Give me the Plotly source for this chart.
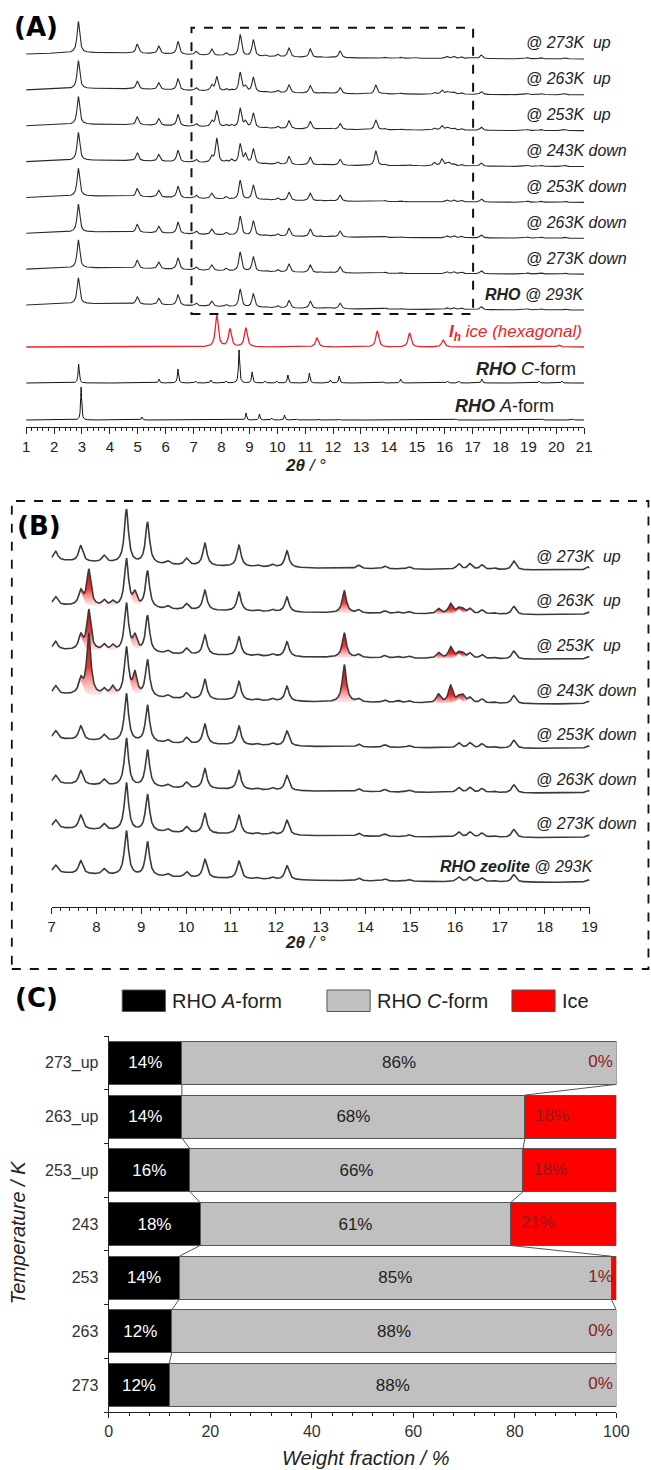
import numpy as np
import plotly.graph_objects as go

# The snapshot squeezes the page a little horizontally (≈0.97, shifted ≈4.9px),
# so the figure is laid out on a wider canvas and positions are mapped back.
SX, OX = 0.971, 5.05
W, H = 668, 1470
FONT = "Liberation Sans, Arial, sans-serif"
INK = "#222222"

# ---------------- data ----------------
# RHO zeolite reflections read off the in-situ scans: 2theta (deg) / intensity (a.u.)
rho_pos = [2.87, 4.98, 5.75, 6.44, 7.09, 7.65, 8.17, 8.67, 9.14, 9.59, 10.01, 10.42,
           11.18, 11.6, 11.92, 12.25, 13.85, 14.43, 14.97, 16.08, 16.33, 16.6, 16.87,
           17.31, 18.96, 19.45, 20.3]
rho_int = [70, 20, 17, 29, 8, 14, 6, 48, 37, 3, 6, 20,
           19, 1.5, 2.5, 15, 3, 2.5, 2, 5, 5, 4, 1.5,
           8, 3, 3, 3]

# hexagonal ice reflections showing up in the cold scans
ice_pos = [7.83, 8.36, 8.86, 13.53, 14.72, 15.63, 15.9, 16.17]
ice_int = [36, 5, 13, 22, 1.5, 5, 10, 4]

scan_labels = ["@ 273K\u00a0 up", "@ 263K\u00a0 up", "@ 253K\u00a0 up", "@ 243K down",
               "@ 253K down", "@ 263K down", "@ 273K down", "RHO @ 293K"]
scan_rho_scale = [1.12, 1.0, 1.0, 1.0, 1.0, 1.0, 1.0, 0.93]
scan_ice_scale = [0.0, 1.0, 1.12, 1.7, 0.0, 0.0, 0.0, 0.0]

# reference patterns (panel A)
iceh_pos = [7.83, 8.3, 8.87, 11.42, 13.58, 14.74, 15.94, 20.09]
iceh_int = [32, 18, 19, 9, 16, 14, 7, 2]
cform_pos = [2.88, 5.76, 6.44, 7.07, 7.62, 8.16, 8.63, 9.1, 9.56, 9.98, 10.38, 11.15,
             11.9, 12.22, 13.8, 14.42, 16.1, 16.5, 17.33, 19.38, 20.2]
cform_int = [19, 4, 14, 2, 3, 2, 33, 11, 2, 2, 8, 10,
             3, 7, 1, 4, 2, 2, 4, 2, 2]
aform_pos = [2.97, 5.15, 8.88, 9.36, 9.8, 10.26, 10.7, 11.47, 12.2, 16.4, 19.5, 20.6]
aform_int = [33, 3, 7, 6, 2, 5, 1, 1, 1, 1, 1, 1]

# panel C: weight fractions (%)
temps = ["273_up", "263_up", "253_up", "243", "253", "263", "273"]
frac_a = [14.4, 14.4, 16.0, 18.0, 13.9, 12.4, 11.9]
frac_c = [85.6, 67.6, 65.6, 61.2, 85.1, 87.6, 88.1]
frac_ice = [0.0, 18.0, 18.4, 20.8, 1.0, 0.0, 0.0]


# ---------------- helpers ----------------
def xp(px):
    return (px / SX - OX) / W


def yp(py):
    return 1 - py / H


def profile(x, pos, inten, hw):
    d = x[:, None] - np.array(pos)[None, :]
    return (np.array(inten) * hw ** 2 / (d ** 2 + hw ** 2)).sum(axis=1)


BG_C, BG_W, BG_H = 3.5, 5.0, 17.0  # broad background hump of the measured scans


def background(x):
    return BG_H * BG_W ** 2 / ((x - BG_C) ** 2 + BG_W ** 2)


HW = 0.055
A_SCALE = 0.4
xa = np.linspace(1, 21, 4001)
xb = np.linspace(7, 19, 2401)

fig = go.Figure()
ann = []
shapes = []


def label(x, y, txt, size, color=INK, xanchor="center", xref="paper", yref="paper",
          family=FONT, **kw):
    ann.append(dict(x=x, y=y, xref=xref, yref=yref, xanchor=xanchor, yanchor="middle",
                    text=txt, showarrow=False, font=dict(size=size, color=color, family=family),
                    **kw))


# ---------------- panel A ----------------
n = len(scan_labels)
for i in range(n):
    off = 116.5 + 35.86 * (n - 1 - i)
    y = background(xa) + scan_rho_scale[i] * profile(xa, rho_pos, rho_int, HW)
    if scan_ice_scale[i] > 0:
        y = y + scan_ice_scale[i] * profile(xa, ice_pos, ice_int, HW)
    fig.add_trace(go.Scatter(x=xa, y=off + A_SCALE * y, mode="lines",
                             line=dict(color="#2a2a2a", width=1.1),
                             xaxis="x", yaxis="y", showlegend=False, hoverinfo="skip"))
    lab = scan_labels[i]
    if lab.startswith("RHO"):
        label(xp(585), off + 16.5, "<b><i>RHO</i></b><i> @ 293K</i>", 16, xanchor="right", yref="y")
    else:
        label(xp(523), off + 16.5, "<i>%s</i>" % lab, 16, xanchor="left", yref="y")

refs = [
    (80, iceh_pos, iceh_int, 0.06, "#e8262a", 1.3, 583,
     "<b><i>I</i></b><sub><b><i>h</i></b></sub><i> ice (hexagonal)</i>", 17, "#e8262a"),
    (44, cform_pos, cform_int, 0.025, "#111111", 1.0, 577,
     "<b><i>RHO</i></b> <i>C</i>-form", 18, INK),
    (7, aform_pos, aform_int, 0.022, "#111111", 1.0, 555,
     "<b><i>RHO</i></b> <i>A</i>-form", 18, INK),
]
for off, pos, inten, hw, col, lw, lx, txt, fs, tc in refs:
    fig.add_trace(go.Scatter(x=xa, y=off + profile(xa, pos, inten, hw), mode="lines",
                             line=dict(color=col, width=lw), xaxis="x", yaxis="y",
                             showlegend=False, hoverinfo="skip"))
    label(xp(lx), off + 14, txt, fs, color=tc, xanchor="right", yref="y")

# ---------------- panel B ----------------
grad = dict(type="vertical",
            colorscale=[[0, "rgba(255,150,150,0.25)"], [0.45, "rgba(238,40,40,0.92)"],
                        [1, "rgb(225,0,0)"]])
lines_b = []
for i in range(n):
    off = 22.9 + 44.6 * (n - 1 - i)
    base = off + background(xb) + scan_rho_scale[i] * profile(xb, rho_pos, rho_int, HW)
    tot = base.copy()
    if scan_ice_scale[i] > 0:
        tot = base + scan_ice_scale[i] * profile(xb, ice_pos, ice_int, HW)
        for p in ice_pos:
            m = (xb > p - 0.3) & (xb < p + 0.3)
            fig.add_trace(go.Scatter(x=xb[m], y=base[m], mode="lines", line=dict(width=0),
                                     xaxis="x2", yaxis="y2", showlegend=False, hoverinfo="skip"))
            fig.add_trace(go.Scatter(x=xb[m], y=tot[m], mode="lines", line=dict(width=0),
                                     fill="tonexty", fillgradient=grad,
                                     xaxis="x2", yaxis="y2", showlegend=False, hoverinfo="skip"))
    lines_b.append(tot)
    lab = scan_labels[i]
    if lab.startswith("RHO"):
        label(xp(595), off + 17.6, "<b><i>RHO zeolite</i></b><i> @ 293K</i>", 16,
              xanchor="right", yref="y2")
    else:
        label(xp(533), off + 15.6, "<i>%s</i>" % lab, 16, xanchor="left", yref="y2")
for tot in lines_b:
    fig.add_trace(go.Scatter(x=xb, y=tot, mode="lines", line=dict(color="#3a3a3a", width=1.6),
                             xaxis="x2", yaxis="y2", showlegend=False, hoverinfo="skip"))

# ---------------- panel C ----------------
yc = list(range(len(temps)))
fig.add_trace(go.Bar(y=yc, x=frac_a, orientation="h", width=0.8, xaxis="x3", yaxis="y3",
                     marker=dict(color="black", line=dict(color="#555555", width=1)),
                     text=["%.0f%%" % v for v in frac_a], textposition="inside",
                     insidetextanchor="middle", constraintext="none",
                     textfont=dict(color="white", size=17, family=FONT),
                     showlegend=False, hoverinfo="skip"))
fig.add_trace(go.Bar(y=yc, x=frac_c, orientation="h", width=0.8, xaxis="x3", yaxis="y3",
                     marker=dict(color="#c0c0c0", line=dict(color="#555555", width=1)),
                     text=["%.0f%%" % v for v in frac_c], textposition="inside",
                     insidetextanchor="middle", constraintext="none",
                     textfont=dict(color="#222222", size=17, family=FONT),
                     showlegend=False, hoverinfo="skip"))
fig.add_trace(go.Bar(y=yc, x=frac_ice, orientation="h", width=0.8, xaxis="x3", yaxis="y3",
                     marker=dict(color="#ff0000", line=dict(color="#555555", width=1)),
                     showlegend=False, hoverinfo="skip"))

# ice percentage labels
big = [k for k in yc if frac_ice[k] >= 5]
small = [k for k in yc if frac_ice[k] < 5]
fig.add_trace(go.Scatter(x=[frac_a[k] + frac_c[k] + 2.0 for k in big], y=big, mode="text",
                         text=["%.0f%%" % frac_ice[k] for k in big], textposition="middle right",
                         textfont=dict(color="#8b1c1c", size=17, family=FONT),
                         xaxis="x3", yaxis="y3", showlegend=False, hoverinfo="skip",
                         cliponaxis=False))
fig.add_trace(go.Scatter(x=[99.3] * len(small), y=small, mode="text",
                         text=["%.0f%%" % frac_ice[k] for k in small], textposition="middle left",
                         textfont=dict(color="#8b1c1c", size=17, family=FONT),
                         xaxis="x3", yaxis="y3", showlegend=False, hoverinfo="skip",
                         cliponaxis=False))

# connector lines between stacked segments
cx, cy = [], []
for k in range(len(temps) - 1):
    b1 = [frac_a[k], frac_a[k] + frac_c[k]]
    b2 = [frac_a[k + 1], frac_a[k + 1] + frac_c[k + 1]]
    for u, v in zip(b1, b2):
        cx += [u, v, None]
        cy += [k + 0.4, k + 0.6, None]
fig.add_trace(go.Scatter(x=cx, y=cy, mode="lines", line=dict(color="#555555", width=1),
                         xaxis="x3", yaxis="y3", showlegend=False, hoverinfo="skip"))

# legend of panel C (drawn by hand to get the wide swatches)
for x0, col, txt in [(122.7, "black", "RHO <i>A</i>-form"), (326.7, "#c0c0c0", "RHO <i>C</i>-form"),
                     (511, "#ff0000", "Ice")]:
    shapes.append(dict(type="rect", xref="paper", yref="paper", x0=xp(x0), x1=xp(x0 + 43),
                       y0=yp(1011.5), y1=yp(990), fillcolor=col,
                       line=dict(color="#555555", width=1)))
    label(xp(x0 + 48), yp(1001), txt, 20, xanchor="left")

# ---------------- frames, titles ----------------
shapes.append(dict(type="rect", xref="paper", yref="paper", x0=xp(191.7), x1=xp(472.3),
                   y0=yp(314), y1=yp(27.7), line=dict(color="#111111", width=2, dash="dash")))
shapes.append(dict(type="rect", xref="paper", yref="paper", x0=xp(12.7), x1=xp(647),
                   y0=yp(969), y1=yp(501), line=dict(color="#111111", width=1.8, dash="dash")))

for txt, cx_, cy_ in [("(A)", 36.5, 26.5), ("(B)", 39.5, 525.5), ("(C)", 37.5, 997.5)]:
    label(xp(cx_), yp(cy_), "<b>%s</b>" % txt, 26, color="black", family="DejaVu Sans")

for cy_ in (465, 942):
    label(xp(305), yp(cy_), "<b><i>2θ</i></b><i> / °</i>", 17)
label(xp(365), yp(1458), "<i>Weight fraction / %</i>", 20)
label(xp(19), yp(1232), "<i>Temperature / K</i>", 20, textangle=-90)

xstyle = dict(showline=True, linecolor="#222222", linewidth=1.3, ticks="outside",
              tickcolor="#222222", showgrid=False, zeroline=False,
              tickfont=dict(size=15, color=INK, family=FONT))

fig.update_layout(
    width=W, height=H, margin=dict(l=0, r=0, t=0, b=0), autosize=False,
    paper_bgcolor="white", plot_bgcolor="white", barmode="stack", bargap=0.2,
    showlegend=False, font=dict(family=FONT, color=INK),
    xaxis=dict(domain=[xp(27), xp(583)], range=[1, 21], anchor="y", tick0=1, dtick=1,
               ticklen=6, minor=dict(dtick=0.2, ticklen=3, ticks="outside", tickcolor="#222222"),
               **xstyle),
    yaxis=dict(domain=[yp(427), yp(10)], range=[0, 417], visible=False),
    xaxis2=dict(domain=[xp(52.3), xp(588.3)], range=[7, 19], anchor="y2", tick0=7, dtick=1,
                ticklen=6, minor=dict(dtick=0.2, ticklen=3, ticks="outside", tickcolor="#222222"),
                **xstyle),
    yaxis2=dict(domain=[yp(907), yp(501)], range=[0, 406], visible=False),
    xaxis3=dict(domain=[xp(109.3), xp(615)], range=[0, 100], anchor="y3", tick0=0, dtick=20,
                ticklen=5, minor=dict(dtick=4, ticklen=3, ticks="outside", tickcolor="#222222"),
                **{**xstyle, "tickfont": dict(size=16, color="#333333", family=FONT)}),
    yaxis3=dict(domain=[yp(1412), yp(1036)], range=[6.5, -0.5], anchor="x3",
                tickmode="array", tickvals=yc, ticktext=temps, ticks="",
                ticklabelstandoff=6, showline=True, linecolor="#222222", linewidth=1.3,
                showgrid=False, zeroline=False,
                minor=dict(tickmode="array", tickvals=[k - 0.5 for k in range(len(temps) + 1)],
                           ticks="outside", ticklen=4, tickcolor="#222222"),
                tickfont=dict(size=16, color="#333333", family=FONT)),
    annotations=ann, shapes=shapes,
)

# drop the default 8px page margin so the figure sits at the window origin
fig.write_html("out.html", config={"displayModeBar": False},
               post_script="document.body.style.margin='0';document.body.style.overflow='hidden';")
